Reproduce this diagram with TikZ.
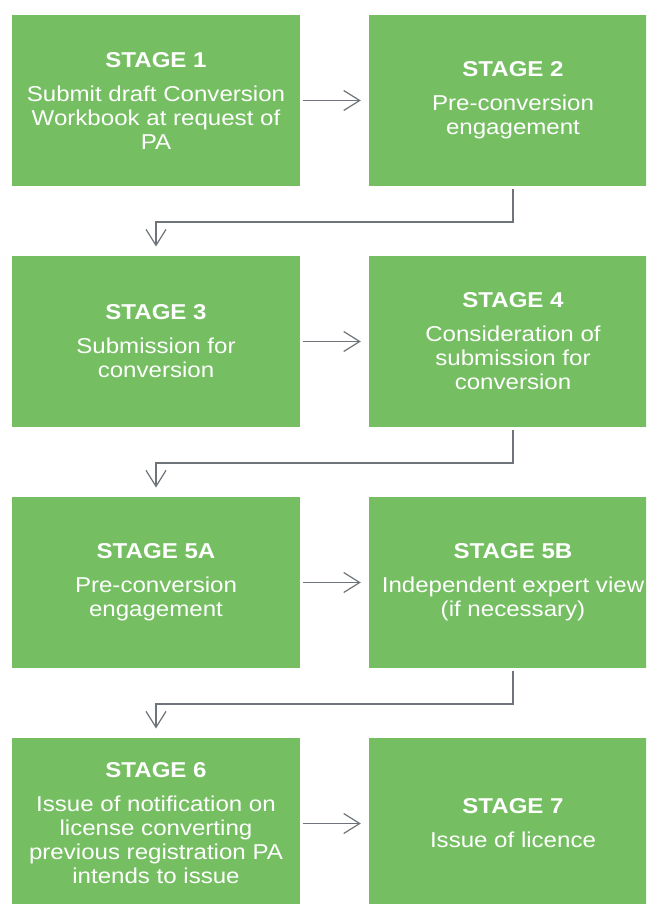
\documentclass[tikz,border=0pt]{standalone}
\usepackage{fontspec}
\setmainfont{Liberation Sans}[FakeStretch=1.12]
\usetikzlibrary{arrows.meta}
\definecolor{boxgreen}{HTML}{75BF62}
\definecolor{linegray}{HTML}{6E7479}
\begin{document}
\begin{tikzpicture}[x=1pt,y=-1pt,
  stagebox/.style={fill=boxgreen, draw=none, minimum width=288pt, minimum height=171pt,
    inner sep=0pt, text=white, align=center, font=\fontsize{21.5}{24}\selectfont},
  flow/.style={draw=linegray, line width=1.2pt,
    -{Straight Barb[length=16pt,width=20pt,line width=1.2pt]}}]
\useasboundingbox (0,0) rectangle (646,904);
\clip (0,0) rectangle (646,904);
\node[stagebox] (s1) at (156,100.5) {\textbf{STAGE 1}\\[10pt]Submit draft Conversion\\Workbook at request of\\PA};
\node[stagebox] (s2) at (513,100.5) {\textbf{STAGE 2}\\[10pt]Pre-conversion\\engagement};
\node[stagebox] (s3) at (156,341.5) {\textbf{STAGE 3}\\[10pt]Submission for\\conversion};
\node[stagebox] (s4) at (513,341.5) {\textbf{STAGE 4}\\[10pt]Consideration of\\submission for\\conversion};
\node[stagebox] (s5a) at (156,582.5) {\textbf{STAGE 5A}\\[10pt]Pre-conversion\\engagement};
\node[stagebox] (s5b) at (513,582.5) {\textbf{STAGE 5B}\\[10pt]Independent expert view\\(if necessary)};
\node[stagebox] (s6) at (156,823.5) {\textbf{STAGE 6}\\[10pt]Issue of notification on\\license converting\\previous registration PA\\intends to issue};
\node[stagebox] (s7) at (513,823.5) {\textbf{STAGE 7}\\[10pt]Issue of licence};
\draw[flow] ([xshift=3pt]s1.east) -- ([xshift=-8pt]s2.west);
\draw[flow] ([xshift=3pt]s3.east) -- ([xshift=-8pt]s4.west);
\draw[flow] ([xshift=3pt]s5a.east) -- ([xshift=-8pt]s5b.west);
\draw[flow] ([xshift=3pt]s6.east) -- ([xshift=-8pt]s7.west);
\draw[flow] ([yshift=-3pt]s2.south) -- ++(0,32.7) -| ([yshift=9.3pt]s3.north);
\draw[flow] ([yshift=-3pt]s4.south) -- ++(0,32.7) -| ([yshift=9.3pt]s5a.north);
\draw[flow] ([yshift=-3pt]s5b.south) -- ++(0,32.7) -| ([yshift=9.3pt]s6.north);
\end{tikzpicture}
\end{document}
